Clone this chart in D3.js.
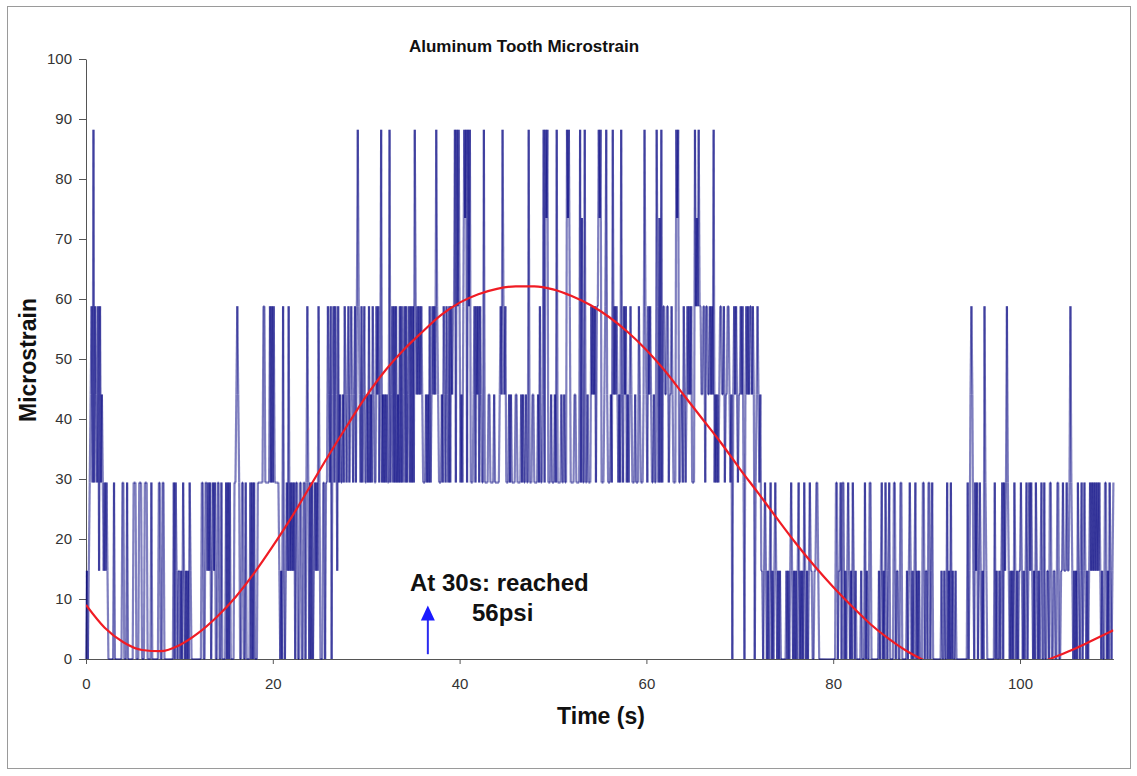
<!DOCTYPE html>
<meta charset="utf-8">
<style>

body {
  margin: 0;
  background: #fff;
}

svg {
  font-family: Arial, "Liberation Sans", sans-serif;
}

.axis path,
.axis line {
  stroke: #555;
}

.axis text {
  fill: #333;
  font-size: 15px;
  font-family: Arial, "Liberation Sans", sans-serif;
}

.strain line {
  stroke: #000080;
  stroke-opacity: 0.5;
  stroke-width: 2.2;
}

.trend {
  fill: none;
  stroke: #f01c24;
  stroke-width: 2.2;
}

.label {
  font-weight: bold;
  fill: #111;
}

</style>
<svg width="1137" height="776"></svg>
<script src="https://cdn.jsdelivr.net/npm/d3@7"></script>
<script>

// quantised gauge levels (microstrain); the digits in the sample strings index into this
var levels = [0, 14.7, 29.4, 44.1, 58.8, 73.5, 88.2];

// one digit per 0.1 s, one string per 10 s (spaces are only for reading)
var sampleStep = 0.1;
var samples = [
  "01012 34262432414232 121210 00000 2 0000000 0220002 0000 002220002220002220 000 2 00000 002200220 000000000 202 101",
  "1010210101021 000000000 00220022 121201212 0022002 000 0202020 0002 234320022002 0000 202020 0022222 2442 222 2424",
  "242 2222 10104101214121212 022002200220 242 0202012121 4 20002202 243240342431423 2 23243234234323424 6 43242342",
  "2324232432 243423 6 23232322 6 23424242 32424234242 3424242 6 4343434 32223 2324234343 6 432223 243243242434 462646",
  "4232 46562646 222 34243424322 6 2222332222322222 343 6 4342223232 222332222 323 22322 6 22233222232422 3626562 2232",
  "2232 6 2222322322 656 42 222332222 6 2522 6 22322 24343424 46562 22 34 6 322232 634343 232 6 32434232343 222 3222432223 64",
  "32 4343 22322 6 4252 6 2443344233 43222 656 2 2332432 343434 222 6 454 6 4433442443 34343 6 232323 44334 23344323 03 434323",
  "34342 03 434 344343 0 234323 1 10121010120101210101 000000 1010121010101201010210101 21100112 2100 0000000000000",
  "00 02201120220 1012101021 01 0000 01000201002 200000000 1012010210120 00 02201100220 0000 101210 10120101 000 2201",
  "1022012 000000000 10010 020 1020 100100 000000000 020 1343 102120121010 4 21 00000000 2 010010 120212 4 21 01010210101",
  "121 0101201 212 101021010120 020 011022001100220011 21 112112 4 21 0101021 01201210 1012121 2121212 1010 02201021012"
];

// red trendline
var trendTime  = [0, 2, 4, 6, 8, 10, 12, 14, 16, 18, 20, 22, 24, 26, 28, 30, 32, 34, 36, 38,
                  40, 42, 44, 46, 48, 50, 52, 54, 56, 58, 60, 62, 64, 66, 68, 70, 72, 74, 76, 78,
                  80, 82, 84, 86, 88, 90, 92, 94, 96, 98, 100, 102, 104, 106, 108, 110];
var trendValue = [9.0, 5.2, 2.8, 1.5, 1.3, 2.3, 4.3, 7.0, 10.3, 14.3, 18.8, 23.6, 28.8, 34.0, 39.0, 43.8, 48.0, 51.5, 54.5, 57.3,
                  59.4, 60.8, 61.7, 62.1, 62.1, 61.6, 60.5, 59.0, 57.0, 54.5, 51.5, 48.0, 44.0, 40.0, 36.0, 31.7, 27.6, 23.4, 19.3, 15.5,
                  12.0, 8.8, 5.8, 3.3, 1.2, -0.4, -1.5, -2.1, -2.3, -2.1, -1.6, -0.7, 0.5, 1.8, 3.3, 4.8];

var xTicks = [0, 20, 40, 60, 80, 100];
var yTicks = [0, 10, 20, 30, 40, 50, 60, 70, 80, 90, 100];

var title = "Aluminum Tooth Microstrain";
var xTitle = "Time (s)";
var yTitle = "Microstrain";
var note = ["At 30s: reached", "56psi"];
var arrowTime = 36.6;

var svg = d3.select("svg"),
    width = +svg.attr("width"),
    height = +svg.attr("height");

var x = d3.scaleLinear().domain([0, 110]).range([86, 1113.4]);
var y = d3.scaleLinear().domain([0, 100]).range([659, 59]);

var data = samples.join("").replace(/\s/g, "").split("").map(function(c, i) {
  return { t: i * sampleStep, v: levels[+c] };
});

var trend = trendTime.map(function(t, i) { return { t: t, v: trendValue[i] }; });

// chart frame
svg.append("rect")
    .attr("x", 7.5)
    .attr("y", 6.5)
    .attr("width", 1123)
    .attr("height", 762)
    .attr("fill", "#fff")
    .attr("stroke", "#9a9a9a");

var defs = svg.append("defs");

defs.append("clipPath")
    .attr("id", "plot")
  .append("rect")
    .attr("x", x(0))
    .attr("y", y(100))
    .attr("width", x(110) - x(0))
    .attr("height", y(0) - y(100));

// slight softening, the source picture is a blurry bitmap
defs.append("filter")
    .attr("id", "soft")
  .append("feGaussianBlur")
    .attr("stdDeviation", "0.45 0");

svg.append("g")
    .attr("class", "axis")
    .attr("transform", "translate(" + x(0) + ",0)")
    .call(d3.axisLeft(y).tickValues(yTicks).tickSizeInner(7).tickSizeOuter(0).tickPadding(7));

svg.append("g")
    .attr("class", "axis")
    .attr("transform", "translate(0," + y(0) + ")")
    .call(d3.axisBottom(x).tickValues(xTicks).tickSizeInner(5).tickSizeOuter(0).tickPadding(14));

// each step of the trace is its own segment so dense stretches build up darker
svg.append("g")
    .attr("class", "strain")
    .attr("filter", "url(#soft)")
  .selectAll("line")
  .data(d3.pairs(data))
  .enter().append("line")
    .attr("x1", function(d) { return x(d[0].t); })
    .attr("y1", function(d) { return y(d[0].v); })
    .attr("x2", function(d) { return x(d[1].t); })
    .attr("y2", function(d) { return y(d[1].v); });

var line = d3.line()
    .curve(d3.curveMonotoneX)
    .x(function(d) { return x(d.t); })
    .y(function(d) { return y(d.v); });

svg.append("path")
    .datum(trend)
    .attr("class", "trend")
    .attr("clip-path", "url(#plot)")
    .attr("d", line);

// titles
svg.append("text")
    .attr("class", "label")
    .attr("x", 524)
    .attr("y", 52)
    .attr("text-anchor", "middle")
    .attr("font-size", 17)
    .text(title);

svg.append("text")
    .attr("class", "label")
    .attr("x", 601)
    .attr("y", 724)
    .attr("text-anchor", "middle")
    .attr("font-size", 23)
    .text(xTitle);

svg.append("text")
    .attr("class", "label")
    .attr("transform", "translate(36,360) rotate(-90)")
    .attr("text-anchor", "middle")
    .attr("font-size", 23)
    .text(yTitle);

// annotation
svg.append("text")
    .attr("class", "label")
    .attr("x", 410)
    .attr("y", 591)
    .attr("font-size", 24)
    .text(note[0]);

svg.append("text")
    .attr("class", "label")
    .attr("x", 472)
    .attr("y", 621)
    .attr("font-size", 24)
    .text(note[1]);

var ax = x(arrowTime);
svg.append("line")
    .attr("x1", ax).attr("x2", ax)
    .attr("y1", y(0.8)).attr("y2", y(7))
    .attr("stroke", "#2a2af0")
    .attr("stroke-width", 2);

svg.append("path")
    .attr("d", "M" + ax + "," + (y(8.9)) + "L" + (ax - 7) + "," + y(6.4) + "L" + (ax + 7) + "," + y(6.4) + "Z")
    .attr("fill", "#1a1aff");

</script>
